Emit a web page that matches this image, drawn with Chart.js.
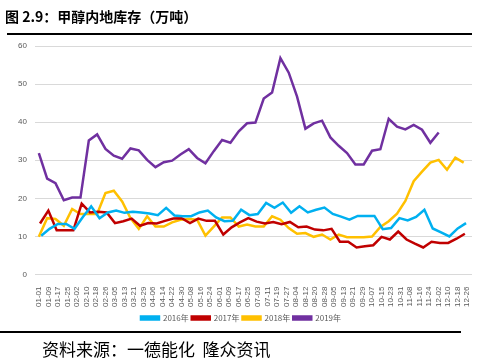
<!DOCTYPE html>
<html>
<head>
<meta charset="utf-8">
<script src="https://cdn.jsdelivr.net/npm/chart.js@4/dist/chart.umd.min.js"></script>
<style>
  body { margin: 0; background: #fff; }
  #wrap { position: relative; width: 481px; height: 361px; overflow: hidden; }
  #chart { position: absolute; left: 0; top: 0; }
  .title { position: absolute; left: 5px; top: 6px; font: bold 14px "Noto Sans CJK SC", sans-serif; color: #000; white-space: nowrap; }
  .rule-top { position: absolute; left: 7px; top: 33px; width: 465px; height: 2px; background: #000; }
  .rule-bottom { position: absolute; left: 0; top: 331px; width: 461px; height: 2px; background: #000; }
  .source { position: absolute; left: 42px; top: 336px; font: 17px "Noto Sans CJK SC", sans-serif; color: #000; white-space: nowrap; }
</style>
</head>
<body>
<div id="wrap">
  <canvas id="chart" width="481" height="361"></canvas>
  <div class="title">图 2.9：甲醇内地库存（万吨）</div>
  <div class="rule-top"></div>
  <div class="rule-bottom"></div>
  <div class="source">资料来源：一德能化&nbsp;&nbsp;隆众资讯</div>
</div>
<script>
const tickLabels = ["01-01","01-09","01-17","01-25","02-02","02-10","02-18","02-26","03-05","03-13",
  "03-21","03-29","04-06","04-14","04-22","04-30","05-08","05-16","05-24","06-01","06-09","06-17",
  "06-25","07-03","07-11","07-19","07-27","08-04","08-12","08-20","08-28","09-05","09-13","09-21",
  "09-29","10-07","10-15","10-23","10-31","11-08","11-16","11-24","12-02","12-10","12-18","12-26"];

// weekly inventory, first observation day of year for each series
const seriesNames = ["2016年", "2017年", "2018年", "2019年"];
const startDays = [2, 1, 0, 0];

const values2016 = [10.2,12.0,13.3,13.3,12.0,15.1,17.9,14.8,16.3,16.8,16.2,16.5,16.3,16.0,15.6,17.5,
  15.5,15.3,15.3,16.3,16.8,15.0,14.0,14.1,17.0,15.6,15.9,18.8,17.5,18.9,16.2,17.9,16.3,17.0,17.6,
  15.9,15.2,14.4,15.4,15.4,15.4,11.9,12.2,14.8,14.2,15.1,17.0,12.1,11.1,10.0,12.1,13.5];
const values2017 = [13.4,16.8,11.6,11.6,11.6,18.6,16.3,16.5,16.3,13.5,14.0,14.7,12.8,13.5,13.4,14.1,
  14.7,14.8,13.5,14.7,14.1,14.1,10.5,12.4,13.7,14.8,13.9,13.4,13.8,13.2,13.8,12.4,12.6,11.8,11.6,
  12.0,8.6,8.6,7.1,7.4,7.7,9.9,9.2,11.3,9.2,8.1,7.1,8.6,8.3,8.3,9.4,10.7];
const values2018 = [9.9,14.8,14.6,12.8,17.2,15.9,15.9,15.9,21.4,22.0,19.2,14.8,12.0,15.3,12.6,12.6,
  13.7,14.4,14.6,14.4,10.2,12.6,15.0,15.0,12.6,13.1,12.6,12.6,15.3,14.4,12.2,10.7,10.9,9.9,10.5,
  9.2,10.5,9.8,9.8,9.8,10.0,12.5,14.0,16.0,19.3,24.5,27.0,29.4,30.1,27.5,30.7,29.4];
const values2019 = [31.9,25.2,24.0,19.5,20.2,20.2,35.2,36.8,33.0,31.2,30.4,33.1,32.6,30.1,28.2,29.5,
  29.9,31.5,32.9,30.6,29.2,32.4,35.3,34.6,37.6,39.7,39.9,46.2,47.8,56.8,53.0,46.7,38.3,39.7,40.4,
  36.0,33.8,31.9,28.9,28.9,32.5,32.9,40.9,38.8,38.1,39.3,38.0,34.6,37.3];

const allValues = [values2016, values2017, values2018, values2019];
const colors = ["#00b0f0", "#c00000", "#ffc000", "#7030a0"];

const datasets = allValues.map((vals, k) => ({
  label: seriesNames[k],
  data: vals.map((v, i) => ({ x: startDays[k] + i * 7, y: v })),
  borderColor: colors[k],
  backgroundColor: colors[k],
  borderWidth: 2.5,
  pointRadius: 0,
  tension: 0
}));

const axisFont = { family: "'Liberation Sans', sans-serif", size: 8 };

new Chart(document.getElementById("chart"), {
  type: "line",
  data: { datasets },
  options: {
    responsive: false,
    animation: false,
    devicePixelRatio: 1,
    layout: { padding: { left: 10, right: 9, top: 46, bottom: 29 } },
    plugins: {
      legend: {
        position: "bottom",
        labels: {
          boxWidth: 18,
          boxHeight: 3,
          padding: 3,
          color: "#595959",
          font: { family: "'Noto Sans CJK SC', sans-serif", size: 8 }
        }
      },
      tooltip: { enabled: false }
    },
    scales: {
      x: {
        type: "linear",
        min: -3.3,
        max: 364,
        afterBuildTicks: axis => {
          axis.ticks = tickLabels.map((t, i) => ({ value: i * 8 }));
        },
        ticks: {
          autoSkip: false,
          maxRotation: 90,
          minRotation: 90,
          padding: 4,
          color: "#595959",
          font: axisFont,
          callback: (v, i) => tickLabels[i]
        },
        grid: { display: false },
        border: { display: false }
      },
      y: {
        min: 0,
        max: 60,
        ticks: { stepSize: 10, padding: 8, color: "#595959", font: axisFont },
        grid: { color: "#d9d9d9", drawTicks: false },
        border: { display: false }
      }
    }
  }
});
</script>
</body>
</html>
